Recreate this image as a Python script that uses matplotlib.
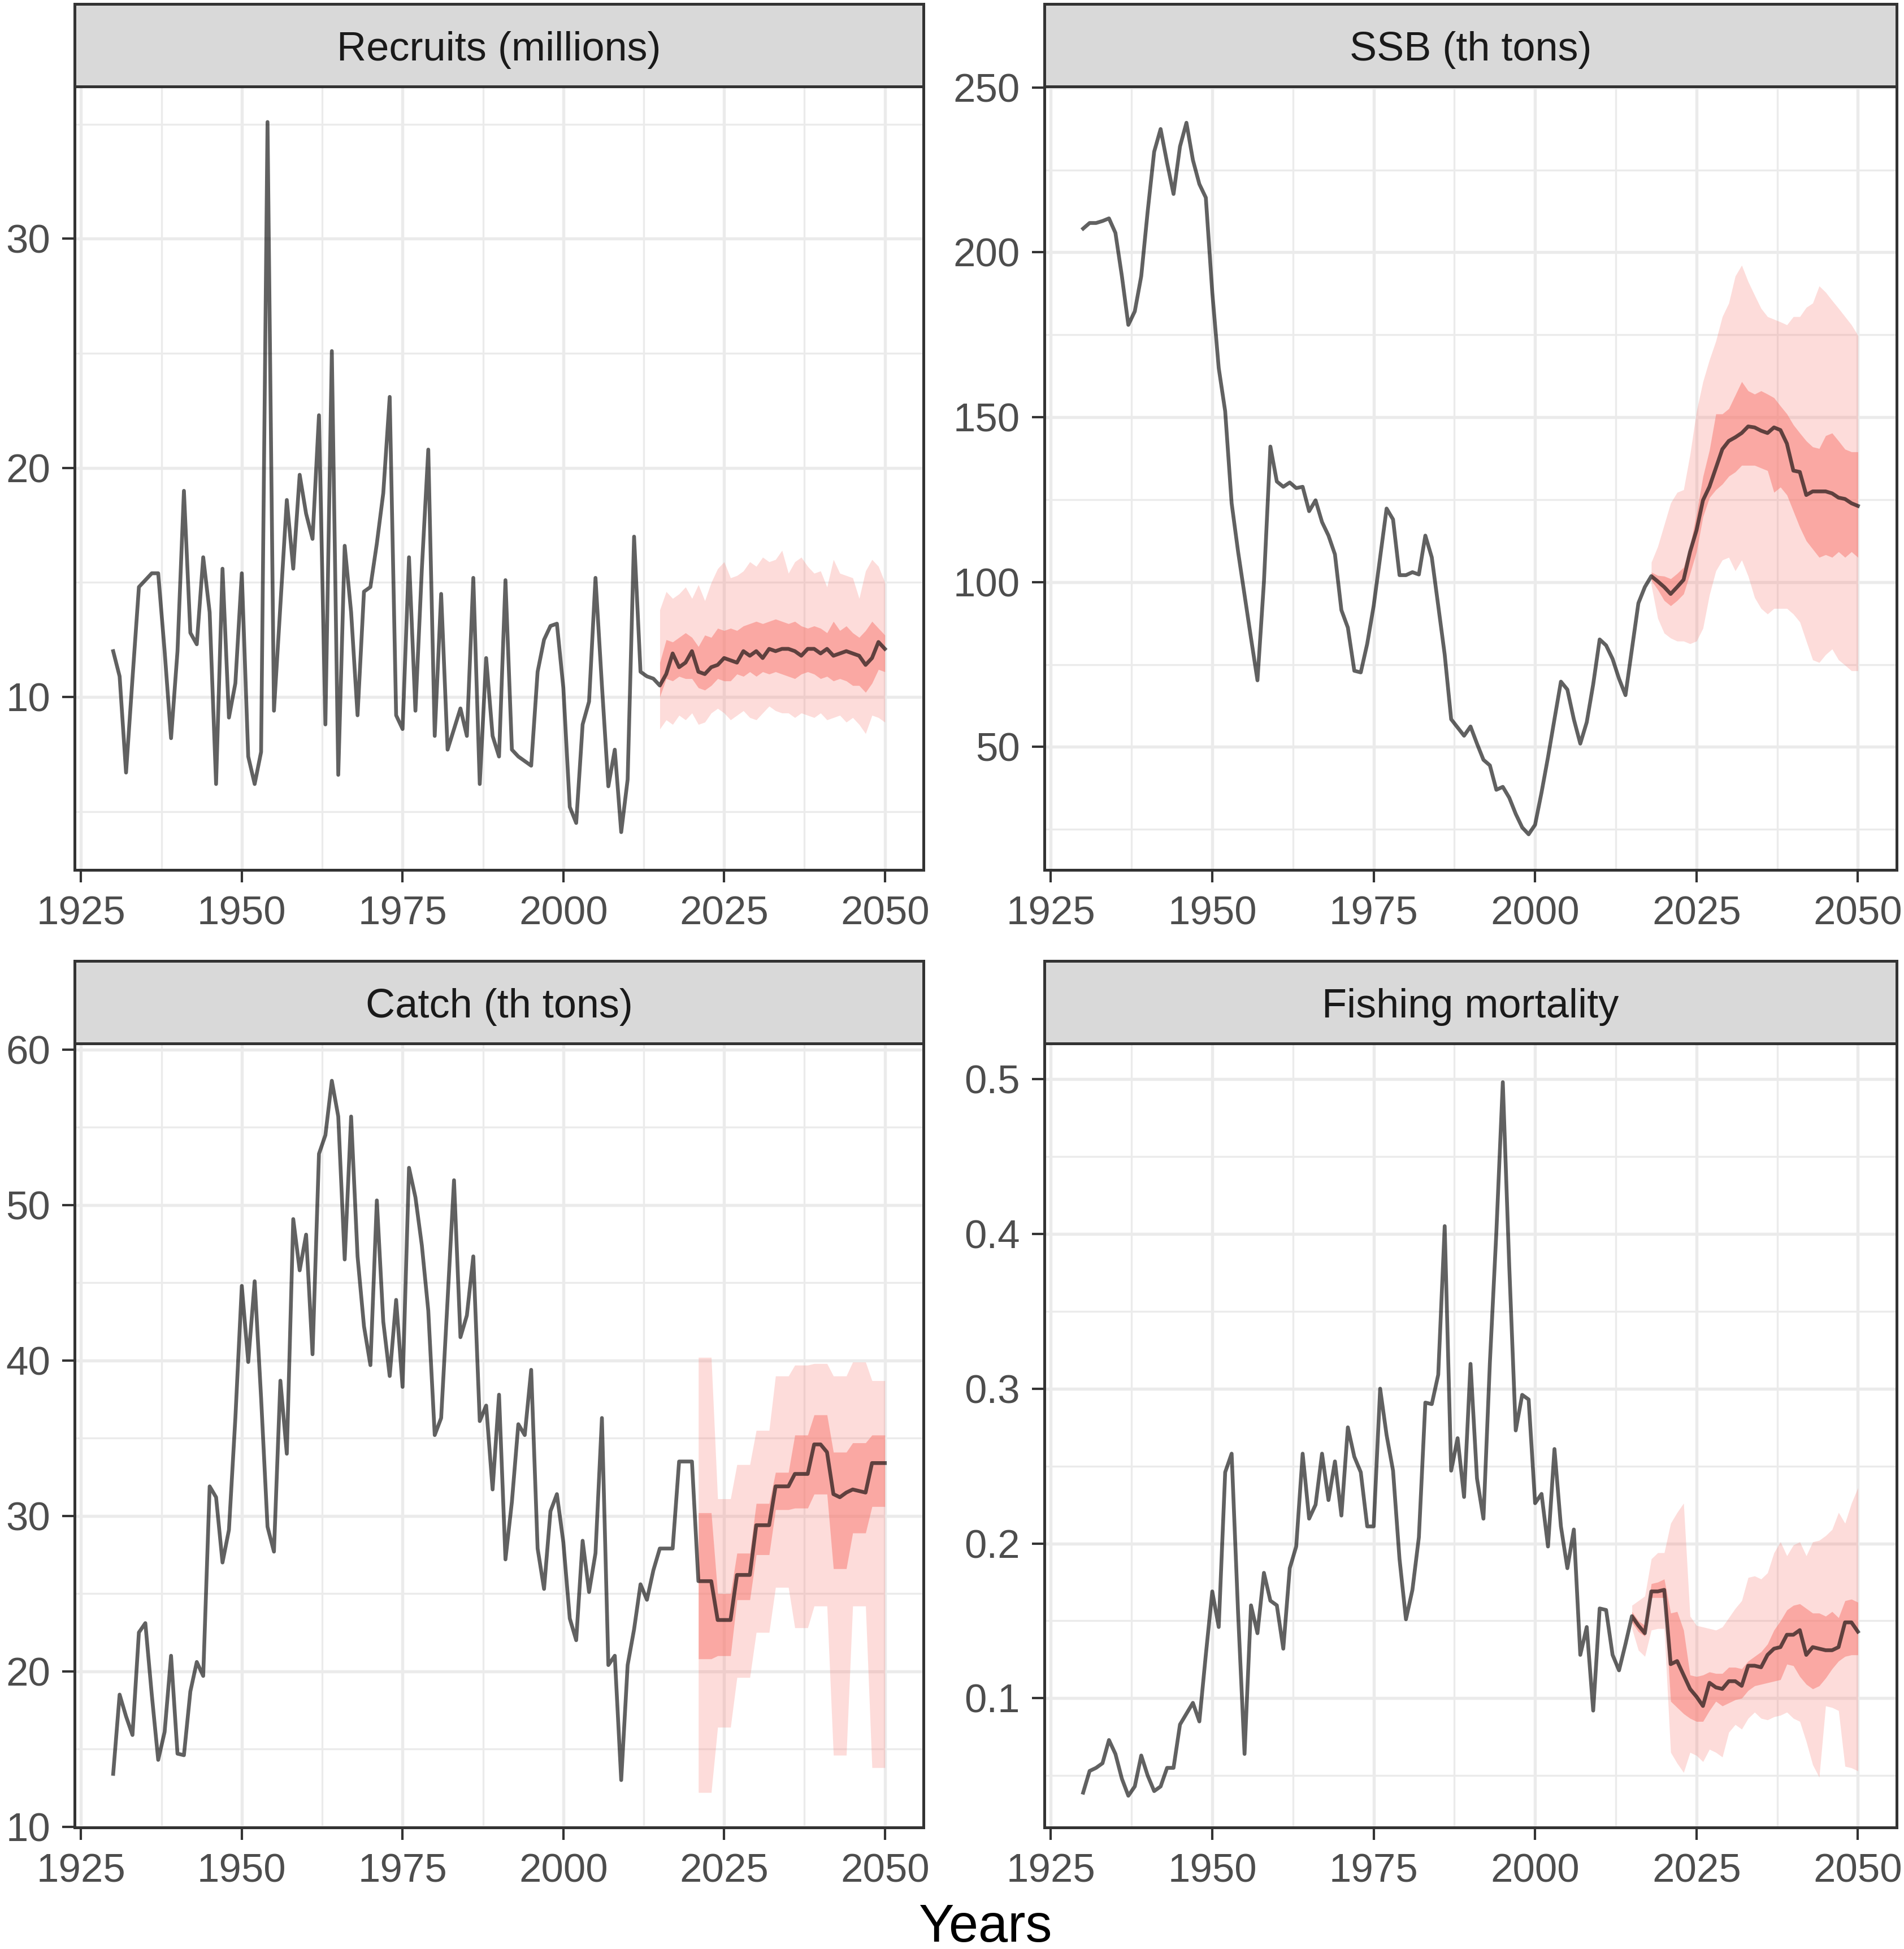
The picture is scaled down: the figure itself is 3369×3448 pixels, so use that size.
import numpy as np
import matplotlib.pyplot as plt

plt.rcParams['font.family'] = ['Liberation Sans', 'DejaVu Sans']

years = np.arange(1930, 2051)

# ---- Recruits (millions), 1930-2050 (median after 2014)
recruits = [12.0, 10.9, 6.7, 10.8, 14.8, 15.1, 15.4, 15.4, 12.0, 8.2,
            12.0, 19.0, 12.8, 12.3, 16.1, 13.7, 6.2, 15.6, 9.1, 10.6,
            15.4, 7.4, 6.2, 7.6, 35.1, 9.4, 14.0, 18.6, 15.6, 19.7,
            18.0, 16.9, 22.3, 8.8, 25.1, 6.6, 16.6, 13.7, 9.2, 14.6,
            14.8, 16.7, 18.9, 23.1, 9.2, 8.6, 16.1, 9.4, 15.6, 20.8,
            8.3, 14.5, 7.7, 8.6, 9.5, 8.3, 15.2, 6.2, 11.7, 8.3,
            7.4, 15.1, 7.7, 7.4, 7.2, 7.0, 11.1, 12.5, 13.1, 13.2,
            10.4, 5.2, 4.5, 8.8, 9.8, 15.2, 10.5, 6.1, 7.7, 4.1,
            6.4, 17.0, 11.1, 10.9, 10.8, 10.5, 11.0, 11.9, 11.3, 11.5,
            12.0, 11.1, 11.0, 11.3, 11.4, 11.7, 11.6, 11.5, 12.0, 11.8,
            12.0, 11.7, 12.1, 12.0, 12.1, 12.1, 12.0, 11.8, 12.1, 12.1,
            11.9, 12.1, 11.8, 11.9, 12.0, 11.9, 11.8, 11.4, 11.7, 12.4,
            12.1]
rec_proj_years = np.arange(2015, 2051)
rec_lo90 = [8.6, 9.0, 8.8, 9.2, 9.0, 9.3, 8.8, 8.9, 9.3, 9.5, 9.3, 9.0,
            9.2, 9.4, 9.1, 9.0, 9.3, 9.6, 9.4, 9.3, 9.3, 9.1, 9.3, 9.2,
            9.1, 9.3, 9.0, 9.1, 9.2, 8.9, 9.1, 8.8, 8.4, 9.2, 9.1, 8.9]
rec_hi90 = [13.8, 14.6, 14.3, 14.5, 14.8, 14.3, 14.9, 14.2, 15.0, 15.6, 15.9, 15.2,
            15.3, 15.5, 15.9, 15.7, 16.1, 15.9, 16.0, 16.4, 15.4, 15.9, 16.1, 15.7,
            15.4, 15.5, 14.8, 16.0, 15.4, 15.3, 15.2, 14.3, 15.5, 16.0, 15.7, 15.0]
rec_lo50 = [10.0, 10.8, 10.7, 10.9, 10.8, 10.8, 10.4, 10.3, 10.5, 10.8, 10.7, 10.7,
            11.0, 10.9, 11.1, 10.9, 11.1, 11.0, 11.1, 11.0, 10.9, 10.8, 11.0, 11.1,
            11.0, 10.8, 10.9, 10.7, 10.8, 10.7, 10.5, 10.5, 10.2, 10.6, 11.2, 11.1]
rec_hi50 = [11.5, 12.5, 12.4, 12.6, 12.8, 12.6, 12.2, 12.7, 12.6, 13.0, 12.9, 13.0,
            12.9, 13.1, 13.2, 13.3, 13.2, 13.3, 13.4, 13.3, 13.2, 13.3, 13.1, 13.0,
            13.1, 13.0, 12.8, 13.3, 12.9, 13.1, 12.8, 12.6, 12.9, 13.3, 13.0, 12.7]

# ---- SSB (th tons), 1930-2050 (median after 2018)
ssb = [207.2, 208.9, 208.9, 209.5, 210.3, 205.9, 192.8, 178.0, 182.1, 192.8,
       212.5, 230.5, 237.4, 227.2, 217.7, 232.1, 239.3, 228.0, 220.7, 216.6,
       187.9, 164.9, 151.8, 123.9, 109.2, 96.1, 83.0, 70.2, 100.0, 141.1,
       130.5, 128.9, 130.2, 128.5, 128.9, 121.5, 124.8, 118.2, 114.1, 108.4,
       91.5, 86.2, 73.1, 72.6, 81.3, 92.8, 107.5, 122.3, 119.0, 102.1,
       102.1, 103.0, 102.3, 114.1, 107.5, 92.8, 78.0, 58.4, 55.9, 53.4,
       56.2, 51.0, 46.1, 44.4, 37.0, 37.9, 34.6, 29.7, 25.6, 23.5,
       26.4, 36.2, 46.9, 58.4, 69.8, 67.4, 58.4, 51.0, 57.5, 69.0,
       82.6, 80.8, 76.7, 70.7, 65.7, 79.7, 93.6, 98.5, 101.8, 100.2,
       98.5, 96.4, 98.5, 100.7, 109.2, 115.7, 124.8, 128.9, 134.6, 140.3,
       142.8, 143.9, 145.2, 147.2, 146.9, 145.9, 145.2, 146.9, 146.1, 142.0,
       133.8, 133.4, 126.4, 127.5, 127.5, 127.5, 126.9, 125.6, 125.2, 123.9,
       123.1]
ssb_proj_years = np.arange(2018, 2051)
ssb_lo90 = [99.0, 89.0, 84.5, 83.0, 82.1, 82.1, 81.3, 82.1, 86.0, 96.1, 103.4,
            106.7, 107.5, 103.4, 106.7, 101.8, 95.3, 92.0, 90.3, 92.0, 92.0, 92.0,
            90.3, 87.9, 82.1, 76.4, 75.6, 78.0, 79.7, 76.4, 74.8, 73.1, 73.1]
ssb_lo50 = [100.5, 97.7, 94.4, 92.8, 94.4, 96.4, 102.6, 109.2, 119.8, 125.6, 128.0,
            129.7, 132.1, 133.4, 135.4, 135.4, 135.4, 134.6, 133.8, 127.2, 128.8, 126.4,
            121.5, 116.6, 112.5, 110.0, 107.5, 108.3, 107.5, 109.2, 107.5, 109.2, 107.5]
ssb_hi50 = [103.0, 102.0, 101.8, 101.0, 102.6, 104.5, 111.0, 120.7, 132.0, 140.0, 151.0,
            151.0, 152.6, 156.7, 160.8, 158.0, 157.0, 158.0, 157.0, 155.9, 153.4, 151.0,
            147.7, 145.2, 142.8, 141.0, 140.5, 144.4, 145.2, 142.8, 140.3, 139.5, 139.5]
ssb_hi90 = [106.0, 110.8, 117.4, 124.0, 127.2, 128.0, 138.7, 151.8, 160.8, 167.4, 173.1,
            180.5, 184.6, 192.8, 196.1, 191.1, 187.0, 183.0, 180.5, 179.7, 178.9, 178.0,
            180.5, 180.5, 183.3, 184.6, 189.8, 187.9, 185.4, 183.0, 180.5, 178.0, 174.8]

# ---- Catch (th tons), 1930-2050 (median after 2020)
catch = [13.4, 18.5, 17.1, 15.9, 22.5, 23.1, 18.5, 14.3, 16.1, 21.0,
         14.7, 14.6, 18.7, 20.6, 19.7, 31.9, 31.2, 27.0, 29.1, 36.3,
         44.8, 39.9, 45.1, 37.6, 29.3, 27.7, 38.7, 34.0, 49.1, 45.8,
         48.1, 40.4, 53.3, 54.5, 58.0, 55.7, 46.5, 55.7, 46.7, 42.2,
         39.7, 50.3, 42.5, 39.0, 43.9, 38.3, 52.4, 50.5, 47.4, 43.2,
         35.2, 36.3, 43.9, 51.6, 41.5, 42.9, 46.7, 36.1, 37.1, 31.7,
         37.8, 27.2, 30.9, 35.9, 35.2, 39.4, 27.9, 25.3, 30.3, 31.4,
         28.3, 23.4, 22.0, 28.4, 25.1, 27.6, 36.3, 20.4, 21.0, 13.0,
         20.4, 22.7, 25.6, 24.6, 26.5, 27.9, 27.9, 27.9, 33.5, 33.5,
         33.5, 25.8, 25.8, 25.8, 23.3, 23.3, 23.3, 26.2, 26.2, 26.2,
         29.4, 29.4, 29.4, 31.9, 31.9, 31.9, 32.7, 32.7, 32.7, 34.6,
         34.6, 34.1, 31.4, 31.2, 31.5, 31.7, 31.6, 31.5, 33.4, 33.4,
         33.4]
catch_proj_years = np.arange(2021, 2051)
catch_lo90 = [12.2, 12.2, 12.2, 16.4, 16.4, 16.4, 19.6, 19.6, 19.6, 22.5,
              22.5, 22.5, 25.4, 25.4, 25.4, 22.8, 22.8, 22.8, 24.2, 24.2,
              24.2, 14.6, 14.6, 14.6, 24.2, 24.2, 24.2, 13.8, 13.8, 13.8]
catch_lo50 = [20.8, 20.8, 20.8, 21.0, 21.0, 21.0, 24.6, 24.6, 24.6, 27.5,
              27.5, 27.5, 30.4, 30.4, 30.4, 30.5, 30.5, 30.5, 31.4, 31.4,
              31.4, 26.6, 26.6, 26.6, 28.9, 28.9, 28.9, 30.6, 30.6, 30.6]
catch_hi50 = [30.2, 30.2, 30.2, 25.0, 25.0, 25.0, 27.6, 27.6, 27.6, 30.8,
              30.8, 30.8, 32.8, 32.8, 32.8, 35.2, 35.2, 35.2, 36.5, 36.5,
              36.5, 34.1, 34.1, 34.1, 34.7, 34.7, 34.7, 35.2, 35.2, 35.2]
catch_hi90 = [40.2, 40.2, 40.2, 31.1, 31.1, 31.1, 33.3, 33.3, 33.3, 35.5,
              35.5, 35.5, 39.0, 39.0, 39.0, 39.7, 39.7, 39.7, 39.8, 39.8,
              39.8, 39.0, 39.0, 39.0, 39.9, 39.9, 39.9, 38.7, 38.7, 38.7]

# ---- Fishing mortality, 1930-2050 (median after 2014)
fmort = [0.039, 0.053, 0.055, 0.058, 0.073, 0.064, 0.048, 0.037, 0.043, 0.063,
         0.050, 0.040, 0.043, 0.055, 0.055, 0.083, 0.090, 0.097, 0.085, 0.128,
         0.169, 0.146, 0.246, 0.258, 0.155, 0.064, 0.160, 0.142, 0.181, 0.163,
         0.160, 0.132, 0.184, 0.198, 0.258, 0.216, 0.225, 0.258, 0.228, 0.253,
         0.218, 0.275, 0.256, 0.246, 0.211, 0.211, 0.300, 0.270, 0.247, 0.190,
         0.151, 0.170, 0.204, 0.291, 0.290, 0.309, 0.405, 0.247, 0.268, 0.230,
         0.316, 0.242, 0.216, 0.317, 0.401, 0.498, 0.379, 0.273, 0.296, 0.293,
         0.226, 0.232, 0.198, 0.261, 0.211, 0.184, 0.209, 0.128, 0.146, 0.092,
         0.158, 0.157, 0.128, 0.118, 0.135, 0.153, 0.147, 0.142, 0.169, 0.169,
         0.170, 0.122, 0.124, 0.115, 0.106, 0.101, 0.095, 0.110, 0.107, 0.106,
         0.111, 0.111, 0.108, 0.121, 0.121, 0.120, 0.128, 0.132, 0.133, 0.141,
         0.141, 0.144, 0.128, 0.133, 0.132, 0.131, 0.131, 0.133, 0.149, 0.149,
         0.143]
f_proj_years = np.arange(2015, 2051)
f_lo90 = [0.145, 0.131, 0.127, 0.144, 0.145, 0.145, 0.065, 0.058, 0.052, 0.065,
          0.063, 0.059, 0.067, 0.065, 0.062, 0.078, 0.083, 0.080, 0.087, 0.091,
          0.087, 0.086, 0.088, 0.089, 0.091, 0.087, 0.085, 0.072, 0.057, 0.049,
          0.095, 0.094, 0.092, 0.056, 0.055, 0.053]
f_lo50 = [0.149, 0.143, 0.140, 0.165, 0.165, 0.165, 0.098, 0.094, 0.090, 0.087,
          0.085, 0.085, 0.092, 0.098, 0.095, 0.097, 0.099, 0.100, 0.105, 0.108,
          0.109, 0.110, 0.111, 0.112, 0.122, 0.121, 0.114, 0.109, 0.106, 0.108,
          0.113, 0.119, 0.124, 0.127, 0.128, 0.128]
f_hi50 = [0.156, 0.150, 0.147, 0.174, 0.175, 0.177, 0.155, 0.156, 0.144, 0.115,
          0.114, 0.115, 0.117, 0.116, 0.116, 0.120, 0.120, 0.119, 0.124, 0.127,
          0.130, 0.135, 0.144, 0.150, 0.157, 0.160, 0.161, 0.158, 0.155, 0.155,
          0.153, 0.156, 0.152, 0.163, 0.164, 0.162]
f_hi90 = [0.160, 0.163, 0.166, 0.190, 0.194, 0.194, 0.213, 0.220, 0.226, 0.153,
          0.147, 0.146, 0.145, 0.144, 0.146, 0.152, 0.158, 0.163, 0.178, 0.179,
          0.177, 0.181, 0.194, 0.201, 0.192, 0.199, 0.201, 0.192, 0.201, 0.202,
          0.205, 0.209, 0.220, 0.213, 0.226, 0.236]

panels = [
    ("Recruits (millions)", recruits, rec_proj_years, rec_lo90, rec_lo50, rec_hi50, rec_hi90,
     (2.45, 36.65), [10, 20, 30], [5, 15, 25, 35], lambda v: f"{v:g}"),
    ("SSB (th tons)", ssb, ssb_proj_years, ssb_lo90, ssb_lo50, ssb_hi50, ssb_hi90,
     (12.7, 250.3), [50, 100, 150, 200, 250], [25, 75, 125, 175, 225], lambda v: f"{v:g}"),
    ("Catch (th tons)", catch, catch_proj_years, catch_lo90, catch_lo50, catch_hi50, catch_hi90,
     (9.95, 60.4), [10, 20, 30, 40, 50, 60], [15, 25, 35, 45, 55], lambda v: f"{v:g}"),
    ("Fishing mortality", fmort, f_proj_years, f_lo90, f_lo50, f_hi50, f_hi90,
     (0.0165, 0.523), [0.1, 0.2, 0.3, 0.4, 0.5], [0.05, 0.15, 0.25, 0.35, 0.45], lambda v: f"{v:.1f}"),
]

W, H = 3369, 3448
fig = plt.figure(figsize=(W / 300, H / 300), dpi=300)

# panel boxes in pixels: (left, right) per column, (top, bottom) per row
cols = [(132, 1634), (1848, 3356)]
rows = [(153, 1539), (1846, 3233)]
strip_h = 146

xmaj = [1925, 1950, 1975, 2000, 2025, 2050]
xmin = [1937.5, 1962.5, 1987.5, 2012.5, 2037.5]
border = '#333333'
fill = '#F8766D'

for i, (title, series, pyears, lo90, lo50, hi50, hi90, ylim, ymaj, ymin, fmt) in enumerate(panels):
    l, r = cols[i % 2]
    t, b = rows[i // 2]
    ax = fig.add_axes([l / W, 1 - b / H, (r - l) / W, (b - t) / H])
    ax.fill_between(pyears, lo90, hi90, color=fill, alpha=0.25, lw=0, zorder=2)
    ax.fill_between(pyears, lo50, hi50, color=fill, alpha=0.5, lw=0, zorder=3)
    ax.plot(years, series, color='black', alpha=0.62, lw=1.6, zorder=4)

    ax.set_xlim(1924, 2056)
    ax.set_ylim(*ylim)
    ax.set_xticks(xmaj)
    ax.set_xticks(xmin, minor=True)
    ax.set_yticks(ymaj)
    ax.set_yticks(ymin, minor=True)
    ax.set_yticklabels([fmt(v) for v in ymaj])
    ax.grid(True, which='major', color='#EBEBEB', lw=1.3, zorder=0)
    ax.grid(True, which='minor', color='#EBEBEB', lw=0.8, zorder=0)
    ax.set_axisbelow(True)
    ax.tick_params(which='major', length=5.3, width=1.0, color=border,
                   labelsize=17, labelcolor='#4D4D4D')
    ax.tick_params(axis='x', pad=5.5)
    ax.tick_params(axis='y', pad=5)
    ax.tick_params(which='minor', length=0)
    for s in ax.spines.values():
        s.set_color(border)
        s.set_linewidth(1.2)
        s.set_zorder(6)

    sax = fig.add_axes([l / W, 1 - t / H, (r - l) / W, strip_h / H])
    sax.set_facecolor('#D9D9D9')
    sax.set_xticks([])
    sax.set_yticks([])
    for s in sax.spines.values():
        s.set_color(border)
        s.set_linewidth(1.2)
    sax.text(0.5, 0.44, title, ha='center', va='center', fontsize=17.3,
             color='#1A1A1A', transform=sax.transAxes)

fig.text((132 + 3356) / 2 / W, 0.011, "Years", ha='center', va='center', fontsize=22.5, color='black')

fig.savefig('out.png', dpi=300)
